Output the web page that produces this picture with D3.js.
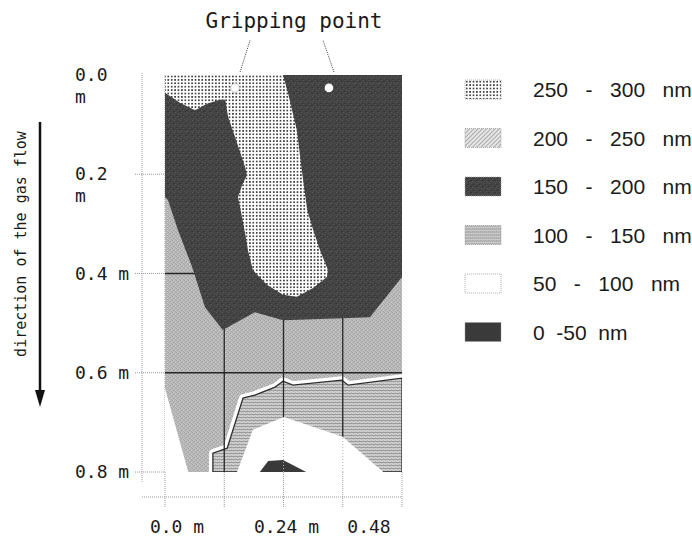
<!DOCTYPE html>
<html>
<head>
<meta charset="utf-8">
<script src="https://cdn.jsdelivr.net/npm/d3@7"></script>
<style>
body { margin: 0; background: #fff; }
text { fill: #1a1a1a; }
.mono { font-family: "DejaVu Sans Mono", monospace; }
.sans { font-family: "Liberation Sans", Arial, sans-serif; white-space: pre; }
</style>
</head>
<body>
<div id="chart"></div>
<script>
// plate coordinates in metres (x across, y down the gas flow)
var xTicks = [0, 0.12, 0.24, 0.36, 0.48];
var yTicks = [0, 0.2, 0.4, 0.6, 0.8];
var xTickLabels = ["0.0 m", "", "0.24 m", "", "0.48"];
var yTickLabels = [["0.0", "m"], ["0.2", "m"], ["0.4 m"], ["0.6 m"], ["0.8 m"]];

// thickness bands (nm), legend order
var bandLabels = ["250   -   300   nm", "200   -   250   nm", "150   -   200   nm",
                  "100   -   150   nm", "50   -   100   nm", "0  -50  nm"];
var bandPatterns = ["pDots", "pHatch", "pDark", "pHoriz", "pWhite", "pSolid"];

// contour outlines, [x m, y m]
var band200 = [[0, 0], [0.48, 0], [0.48, 0.8], [0, 0.8]];
var band100 = [[0.097, 0.8], [0.097, 0.762], [0.126, 0.752], [0.158, 0.651], [0.182, 0.645],
               [0.223, 0.629], [0.239, 0.617], [0.259, 0.625], [0.358, 0.615], [0.371, 0.625],
               [0.48, 0.611], [0.48, 0.8]];
var band150 = [[0, 0], [0.48, 0], [0.48, 0.407], [0.415, 0.488], [0.360, 0.490], [0.239, 0.494],
               [0.182, 0.478], [0.117, 0.514], [0.081, 0.468], [0.055, 0.387], [0.026, 0.312],
               [0.006, 0.252], [0, 0.246]];
var band250 = [[0, 0], [0, 0.036], [0.030, 0.056], [0.061, 0.071], [0.085, 0.058], [0.111, 0.050],
               [0.122, 0.050], [0.128, 0.085], [0.146, 0.137], [0.162, 0.185], [0.166, 0.202],
               [0.156, 0.222], [0.148, 0.246], [0.152, 0.266], [0.162, 0.318], [0.168, 0.353],
               [0.178, 0.393], [0.207, 0.423], [0.239, 0.443], [0.267, 0.447], [0.300, 0.429],
               [0.328, 0.407], [0.330, 0.393], [0.314, 0.353], [0.300, 0.312], [0.288, 0.272],
               [0.277, 0.191], [0.267, 0.111], [0.249, 0.036], [0.239, 0]];
var band50a = [[0, 0.631], [0.047, 0.8], [0, 0.8]];
var band50b = [[0.146, 0.8], [0.178, 0.715], [0.241, 0.689], [0.360, 0.729], [0.442, 0.8]];
var band0 = [[0.192, 0.8], [0.209, 0.778], [0.239, 0.776], [0.286, 0.8]];

var grippingPoints = [[0.142, 0.026], [0.332, 0.026]];

var W = 692, H = 537;
var x = d3.scaleLinear().domain([0, 0.48]).range([165, 402]);
var y = d3.scaleLinear().domain([0, 0.8]).range([75, 472]);

var svg = d3.select("#chart").append("svg")
    .attr("width", W).attr("height", H);
var defs = svg.append("defs");

/* fill textures */
var p = defs.append("pattern").attr("id", "pDots").attr("patternUnits", "userSpaceOnUse")
    .attr("width", 3.4).attr("height", 3.4);
p.append("rect").attr("width", 3.4).attr("height", 3.4).attr("fill", "#fff");
p.append("rect").attr("x", 0.9).attr("y", 0.9).attr("width", 1.6).attr("height", 1.6).attr("fill", "#2b2b2b");

p = defs.append("pattern").attr("id", "pHatch").attr("patternUnits", "userSpaceOnUse")
    .attr("width", 3).attr("height", 3).attr("patternTransform", "rotate(45)");
p.append("rect").attr("width", 3).attr("height", 3).attr("fill", "#e6e6e6");
p.append("rect").attr("width", 0.8).attr("height", 3).attr("fill", "#9a9a9a");

p = defs.append("pattern").attr("id", "pDark").attr("patternUnits", "userSpaceOnUse")
    .attr("width", 6).attr("height", 6);
p.append("rect").attr("width", 6).attr("height", 6).attr("fill", "#434343");
[[0, 0, "#5a5a5a"], [3, 2, "#565656"], [1, 4, "#5c5c5c"], [4, 5, "#545454"],
 [2, 1, "#323232"], [5, 3, "#343434"], [0, 3, "#363636"]].forEach(function (d) {
    p.append("rect").attr("x", d[0]).attr("y", d[1]).attr("width", 1).attr("height", 1).attr("fill", d[2]);
});

p = defs.append("pattern").attr("id", "pLight").attr("patternUnits", "userSpaceOnUse")
    .attr("width", 4).attr("height", 4);
p.append("rect").attr("width", 4).attr("height", 4).attr("fill", "#bababa");
[[0, 0, "#9e9e9e"], [2, 1, "#a2a2a2"], [1, 2, "#a0a0a0"], [3, 3, "#a4a4a4"],
 [1, 0, "#d0d0d0"], [3, 2, "#cecece"]].forEach(function (d) {
    p.append("rect").attr("x", d[0]).attr("y", d[1]).attr("width", 1).attr("height", 1).attr("fill", d[2]);
});

p = defs.append("pattern").attr("id", "pHoriz").attr("patternUnits", "userSpaceOnUse")
    .attr("width", 4).attr("height", 3);
p.append("rect").attr("width", 4).attr("height", 3).attr("fill", "#d0d0d0");
p.append("rect").attr("width", 4).attr("height", 1).attr("fill", "#9c9c9c");
[[1, 1, "#b4b4b4"], [3, 2, "#b6b6b6"]].forEach(function (d) {
    p.append("rect").attr("x", d[0]).attr("y", d[1]).attr("width", 1).attr("height", 1).attr("fill", d[2]);
});

p = defs.append("pattern").attr("id", "pWhite").attr("patternUnits", "userSpaceOnUse")
    .attr("width", 4).attr("height", 4);
p.append("rect").attr("width", 4).attr("height", 4).attr("fill", "#fff");

p = defs.append("pattern").attr("id", "pSolid").attr("patternUnits", "userSpaceOnUse")
    .attr("width", 4).attr("height", 4);
p.append("rect").attr("width", 4).attr("height", 4).attr("fill", "#3a3a3a");

defs.append("clipPath").attr("id", "plotClip").append("rect")
    .attr("x", x(0)).attr("y", y(0))
    .attr("width", x(0.48) - x(0)).attr("height", y(0.8) - y(0));

var line = d3.line()
    .x(function (d) { return x(d[0]); })
    .y(function (d) { return y(d[1]); });
function poly(d) { return line(d) + "Z"; }

var whiteClip = defs.append("clipPath").attr("id", "whiteClip");
[band50a, band50b].forEach(function (b) {
    whiteClip.append("path").attr("d", poly(b));
});

/* outer frame, ticks (dotted) */
var frame = svg.append("g")
    .attr("stroke", "#9a9a9a").attr("stroke-width", 1).attr("stroke-dasharray", "1,1").attr("fill", "none");
frame.append("line").attr("x1", 142).attr("x2", 142).attr("y1", y(0) - 2).attr("y2", y(0.8) + 11);
frame.append("line").attr("x1", 142).attr("x2", x(0.48)).attr("y1", y(0.8) + 25).attr("y2", y(0.8) + 25);
frame.selectAll(".yt").data(yTicks.slice(1)).enter().append("line")
    .attr("x1", 135).attr("x2", x(0))
    .attr("y1", function (d) { return y(d); }).attr("y2", function (d) { return y(d); });
frame.selectAll(".xt").data(xTicks).enter().append("line")
    .attr("x1", function (d) { return x(d); }).attr("x2", function (d) { return x(d); })
    .attr("y1", y(0.8)).attr("y2", y(0.8) + 36);
frame.append("line").attr("x1", x(0)).attr("x2", x(0)).attr("y1", y(0)).attr("y2", y(0.8));

/* contour bands */
var plot = svg.append("g").attr("clip-path", "url(#plotClip)");

plot.append("path").attr("d", poly(band200)).attr("fill", "url(#pLight)");

plot.append("path").attr("d", poly(band100))
    .attr("fill", "none").attr("stroke", "#fff").attr("stroke-width", 8).attr("stroke-linejoin", "round");
plot.append("path").attr("d", poly(band100))
    .attr("fill", "url(#pHoriz)").attr("stroke", "#2e2e2e").attr("stroke-width", 1.3);

// grid shows through the grey bands only
var grid = plot.append("g").attr("stroke", "#262626").attr("stroke-width", 1.3);
grid.selectAll(".gh").data(yTicks.slice(1, 4)).enter().append("line")
    .attr("x1", x(0)).attr("x2", x(0.48))
    .attr("y1", function (d) { return y(d); }).attr("y2", function (d) { return y(d); });
grid.selectAll(".gv").data(xTicks.slice(1, 4)).enter().append("line")
    .attr("x1", function (d) { return x(d); }).attr("x2", function (d) { return x(d); })
    .attr("y1", y(0)).attr("y2", y(0.8));

plot.append("path").attr("d", poly(band150)).attr("fill", "url(#pDark)");

[band50a, band50b].forEach(function (b) {
    plot.append("path").attr("d", poly(b)).attr("fill", "#fff");
});
plot.append("path").attr("d", poly(band0)).attr("fill", "#393939");

var faint = plot.append("g").attr("clip-path", "url(#whiteClip)")
    .attr("stroke", "#b0b0b0").attr("stroke-dasharray", "1,2");
faint.selectAll("line").data(xTicks.slice(1, 4)).enter().append("line")
    .attr("x1", function (d) { return x(d); }).attr("x2", function (d) { return x(d); })
    .attr("y1", y(0)).attr("y2", y(0.8));

plot.append("path").attr("d", poly(band250)).attr("fill", "url(#pDots)");

/* gripping points */
svg.selectAll(".gp").data(grippingPoints).enter().append("circle")
    .attr("cx", function (d) { return x(d[0]); })
    .attr("cy", function (d) { return y(d[1]); })
    .attr("r", 4.3)
    .attr("fill", "#fff")
    .attr("stroke", function (d, i) { return i ? "none" : "#bbb"; })
    .attr("stroke-width", 0.8);

var leaderTop = [15, -6];
svg.selectAll(".ld").data(grippingPoints).enter().append("line")
    .attr("x1", function (d) { return x(d[0]) + 5; })
    .attr("y1", function (d) { return y(d[1]) - 16; })
    .attr("x2", function (d, i) { return x(d[0]) + leaderTop[i]; })
    .attr("y2", 40)
    .attr("stroke", "#444").attr("stroke-width", 1).attr("stroke-dasharray", "1,1");

svg.append("text").attr("class", "mono")
    .attr("x", 294).attr("y", 28).attr("text-anchor", "middle")
    .style("font-size", "21px")
    .text("Gripping point");

/* axis labels */
svg.selectAll(".yl").data(yTicks).enter().append("text")
    .attr("class", "mono")
    .style("font-size", "18px")
    .attr("x", 75)
    .attr("y", function (d) { return y(d) + 6; })
    .each(function (d, i) {
        d3.select(this).selectAll("tspan").data(yTickLabels[i]).enter().append("tspan")
            .attr("x", 75)
            .attr("dy", function (t, j) { return j ? 22 : 0; })
            .text(function (t) { return t; });
    });

var xLabelShift = [12, 0, 3, 0, -33];
svg.selectAll(".xl").data(xTicks).enter().append("text")
    .attr("class", "mono")
    .style("font-size", "18px")
    .attr("text-anchor", "middle")
    .attr("x", function (d, i) { return x(d) + xLabelShift[i]; })
    .attr("y", y(0.8) + 61)
    .text(function (d, i) { return xTickLabels[i]; });

/* gas-flow arrow */
svg.append("line").attr("x1", 40).attr("x2", 40).attr("y1", 122).attr("y2", 392)
    .attr("stroke", "#111").attr("stroke-width", 2.5);
svg.append("path").attr("d", "M35,390L45,390L40,407Z").attr("fill", "#111");
svg.append("text").attr("class", "mono")
    .attr("transform", "translate(26,244) rotate(-90)")
    .attr("text-anchor", "middle")
    .style("font-size", "15px")
    .text("direction of the gas flow");

/* legend */
var legend = svg.selectAll(".lg").data(bandLabels).enter().append("g")
    .attr("transform", function (d, i) { return "translate(465," + (80 + i * 48.5) + ")"; });
legend.append("rect")
    .attr("width", 36).attr("height", 19)
    .attr("fill", function (d, i) { return "url(#" + bandPatterns[i] + ")"; })
    .attr("stroke", "#999").attr("stroke-width", 0.8).attr("stroke-dasharray", "1,1");
legend.append("text").attr("class", "sans")
    .attr("x", 68).attr("y", 17)
    .style("font-size", "21px")
    .text(function (d) { return d; });
</script>
</body>
</html>
